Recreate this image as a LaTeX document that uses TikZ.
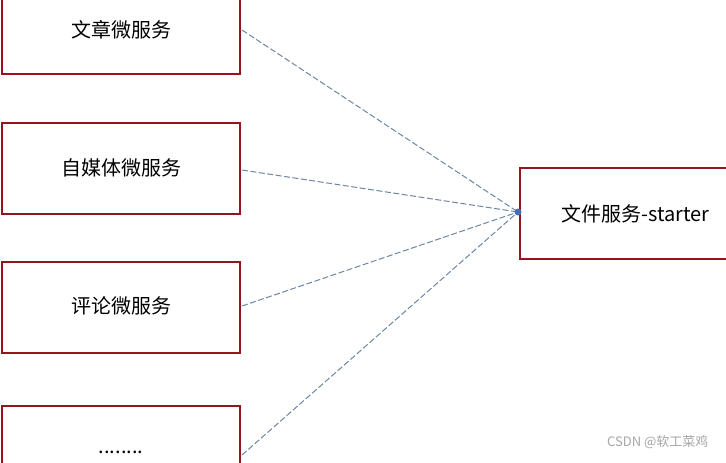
\documentclass[tikz,border=0pt]{standalone}
\usepackage{fontspec}
\newfontfamily\cjk{Noto Sans CJK SC}
\usetikzlibrary{arrows.meta}
\definecolor{boxred}{RGB}{150,20,30}
\definecolor{connc}{RGB}{110,135,160}
\definecolor{dotc}{RGB}{70,110,180}
\begin{document}
\begin{tikzpicture}[x=1pt,y=-1pt,
  box/.style={draw=boxred,line width=2pt,fill=white},
  lbl/.style={font=\cjk\fontsize{20}{24}\selectfont},
  conn/.style={draw=connc,dash pattern=on 6pt off 2.5pt,line width=1pt}]
\useasboundingbox (0,0) rectangle (726,463);
\fill[white] (0,0) rectangle (726,463);
\draw[box] (2,-10) rectangle (240,74);
\draw[box] (2,123) rectangle (240,214);
\draw[box] (2,262) rectangle (240,353);
\draw[box] (2,406) rectangle (240,480);
\draw[box] (520,168) rectangle (740,259);
\node[lbl] (a) at (121,30) {文章微服务};
\node[lbl] (b) at (121,168) {自媒体微服务};
\node[lbl] (c) at (121,306) {评论微服务};
\node[lbl] (d) at (121,452) {........};
\node[lbl,anchor=west] (f) at (558,214) {文件服务-starter};
\coordinate (t) at (518,212);
\coordinate (a1) at (242,30);
\coordinate (b1) at (242,170);
\coordinate (c1) at (242,306);
\coordinate (d1) at (242,455);
\draw[conn] (a1) -- (t);
\draw[conn] (b1) -- (t);
\draw[conn] (c1) -- (t);
\draw[conn] (d1) -- (t);
\fill[dotc] (t) circle (3.5);
\node[font=\cjk\fontsize{13}{15}\selectfont,text=gray!70,anchor=east] (w) at (712,442) {CSDN @软工菜鸡};
\end{tikzpicture}
\end{document}
